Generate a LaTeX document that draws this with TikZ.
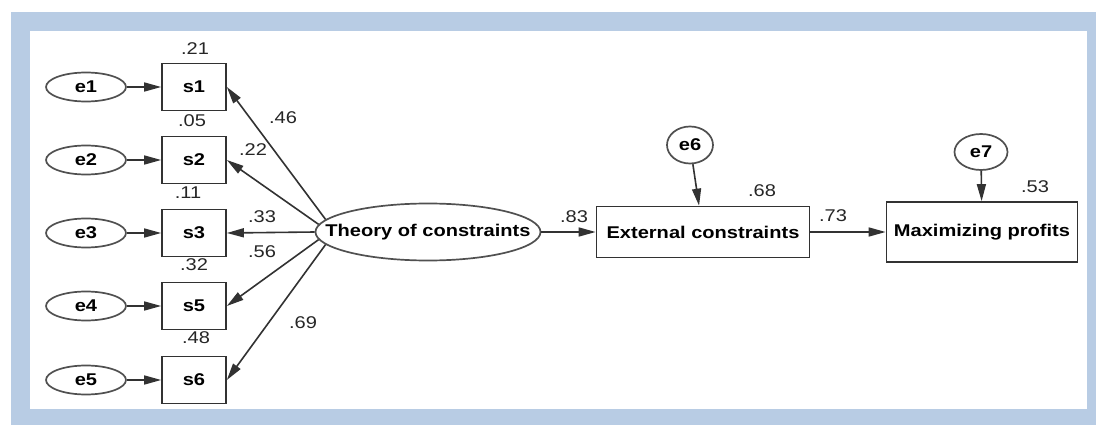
\documentclass[tikz,border=0pt]{standalone}
\usepackage{fontspec}
\setmainfont{Liberation Sans}[FakeStretch=1.18]
\usetikzlibrary{arrows.meta,shapes.geometric}
\definecolor{fBlue}{RGB}{184,204,228}
\definecolor{dLine}{RGB}{50,50,50}
\definecolor{dEll}{RGB}{80,80,80}
\tikzset{
  obs/.style={rectangle, draw=dLine, line width=1.7pt, fill=white, inner sep=0pt,
              minimum width=64pt, minimum height=47pt, font=\fontsize{17}{19}\selectfont\bfseries},
  lat/.style={ellipse, draw=dEll, line width=1.7pt, fill=white, inner xsep=-40pt, inner ysep=-6pt,
              font=\fontsize{17}{19}\selectfont\bfseries},
  err/.style={lat, minimum width=80pt, minimum height=29pt},
  reg/.style={-{Triangle[length=17pt,width=9pt]}, draw=dLine, line width=1.6pt},
  est/.style={font=\fontsize{17}{19}\selectfont, inner sep=0pt, text=black!85},
}

\begin{document}
\begin{tikzpicture}[x=1pt,y=-1pt]
  \useasboundingbox (0,0) rectangle (1096,425);
  % --- frame -----------------------------------------------------------------
  \fill[fBlue] (11,12) rectangle (1096,425);
  \fill[white] (30,31) rectangle (1087,409);

  % --- indicators s1..s6 with their errors ------------------------------------
  \node[obs] (s1) at (194,87)  {s1};
  \node[obs] (s2) at (194,160) {s2};
  \node[obs] (s3) at (194,233) {s3};
  \node[obs] (s5) at (194,306) {s5};
  \node[obs] (s6) at (194,380) {s6};
  \node[err] (e1) at (86,87)  {e1};
  \node[err] (e2) at (86,160) {e2};
  \node[err] (e3) at (86,233) {e3};
  \node[err] (e4) at (86,306) {e4};
  \node[err] (e5) at (86,380) {e5};

  % --- latent and endogenous variables ----------------------------------------
  \node[lat, minimum width=225pt, minimum height=57pt] (toc) at (428,232) {Theory of constraints};
  \node[obs, minimum width=213pt, minimum height=51pt] (ext) at (703,232) {External constraints};
  \node[obs, minimum width=191pt, minimum height=60pt] (max) at (982,232) {Maximizing profits};
  \node[lat, minimum width=46pt, minimum height=37pt] (e6) at (690,145) {e6};
  \node[lat, minimum width=53pt, minimum height=36pt] (e7) at (981,152) {e7};

  % --- error paths ------------------------------------------------------------
  \draw[reg] (e1) -- (s1);
  \draw[reg] (e2) -- (s2);
  \draw[reg] (e3) -- (s3);
  \draw[reg] (e4) -- (s5);
  \draw[reg] (e5) -- (s6);
  \draw[reg] (e6) -- (ext);
  \draw[reg] (e7) -- (max);

  % --- loadings and structural paths ------------------------------------------
  \draw[reg] (toc.173) -- (s1.east);
  \draw[reg] (toc.176) -- (s2.east);
  \draw[reg] (toc.west) -- (s3.east);
  \draw[reg] (toc.184) -- (s5.east);
  \draw[reg] (toc.187) -- (s6.east);
  \draw[reg] (toc) -- (ext);
  \draw[reg] (ext) -- (max);

  % --- squared multiple correlations ------------------------------------------
  \node[est] (r1) at (195,49)  {.21};
  \node[est] (r2) at (192,121) {.05};
  \node[est] (r3) at (188,193) {.11};
  \node[est] (r5) at (194,265) {.32};
  \node[est] (r6) at (196,338) {.48};
  \node[est] (r7) at (762,191) {.68};
  \node[est] (r8) at (1035,187) {.53};

  % --- path coefficients ------------------------------------------------------
  \node[est] (b1) at (283,118) {.46};
  \node[est] (b2) at (253,150) {.22};
  \node[est] (b3) at (262,217) {.33};
  \node[est] (b5) at (262,252) {.56};
  \node[est] (b6) at (303,323) {.69};
  \node[est] (b7) at (574,217) {.83};
  \node[est] (b8) at (833,216) {.73};
\end{tikzpicture}
\end{document}
